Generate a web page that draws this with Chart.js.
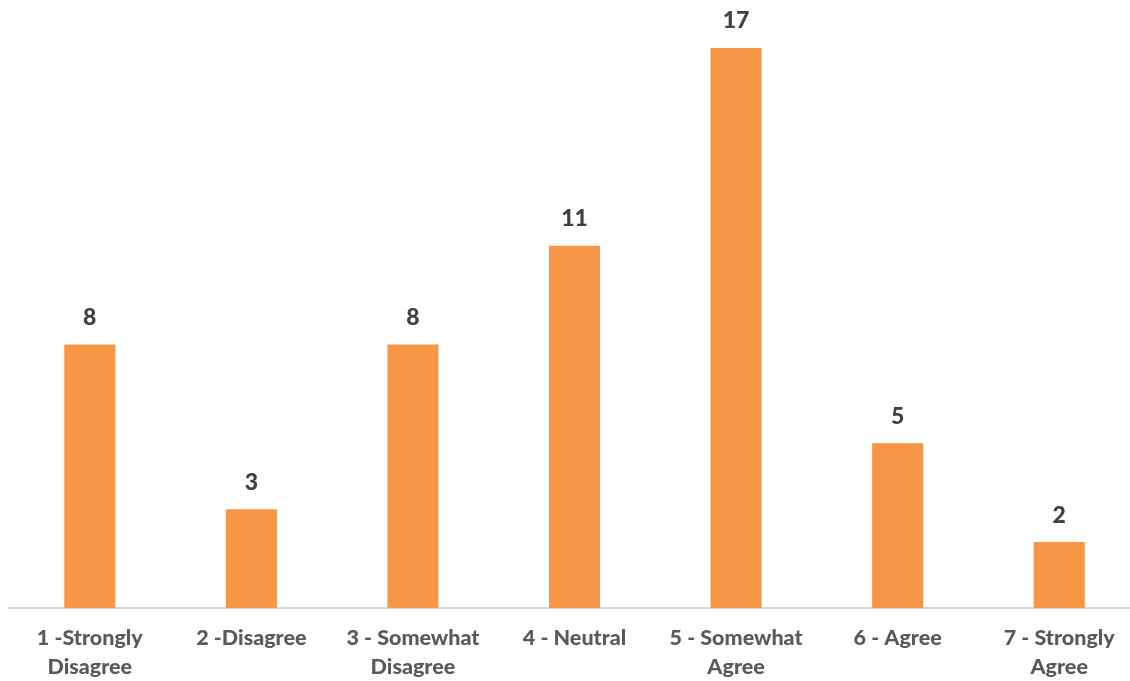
<!DOCTYPE html>
<html>
<head>
<meta charset="utf-8">
<script src="https://cdn.jsdelivr.net/npm/chart.js@4/dist/chart.umd.min.js"></script>
<style>
  html, body { margin: 0; padding: 0; background: #fff; overflow: hidden; }
  #wrap { position: absolute; left: 0; top: 0; width: 1150px; height: 681px; }
</style>
</head>
<body>
<div id="wrap"><canvas id="c" width="1150" height="681"></canvas></div>
<script>
  var categories = [
    ['1 -Strongly', 'Disagree'],
    ['2 -Disagree'],
    ['3 - Somewhat', 'Disagree'],
    ['4 - Neutral'],
    ['5 - Somewhat', 'Agree'],
    ['6 - Agree'],
    ['7 - Strongly', 'Agree']
  ]
  var counts = [8, 3, 8, 11, 17, 5, 2]

  // value labels above each bar
  var valueLabels = {
    id: 'valueLabels',
    afterDatasetsDraw: function(chart){
      var ctx = chart.ctx
      var meta = chart.getDatasetMeta(0)
      ctx.save()
      ctx.font = '900 23px Lato'
      ctx.fillStyle = '#404040'
      ctx.textAlign = 'center'
      ctx.textBaseline = 'middle'
      meta.data.forEach(function(bar, i){
        ctx.fillText(String(counts[i]), bar.x, bar.y - 27)
      })
      ctx.restore()
    }
  }

  new Chart(document.getElementById('c'), {
    type: 'bar',
    data: {
      labels: categories,
      datasets: [{
        data: counts,
        backgroundColor: '#f79646',
        borderWidth: 0,
        barPercentage: 0.316,
        categoryPercentage: 1
      }]
    },
    options: {
      responsive: false,
      animation: false,
      layout: { padding: { left: 9, right: 10, top: 48, bottom: 0 } },
      plugins: { legend: { display: false }, tooltip: { enabled: false } },
      scales: {
        x: {
          grid: { display: false, drawTicks: false },
          border: { display: true, color: '#d9d9d9', width: 2 },
          ticks: {
            color: '#595959',
            font: { family: 'Lato', size: 21.5, weight: '900', lineHeight: 1.35 },
            padding: 16,
            maxRotation: 0,
            autoSkip: false
          },
          afterFit: function(scale){ scale.height = 73 }
        },
        y: {
          display: false,
          min: 0,
          max: 17
        }
      }
    },
    plugins: [valueLabels]
  })
</script>
</body>
</html>
